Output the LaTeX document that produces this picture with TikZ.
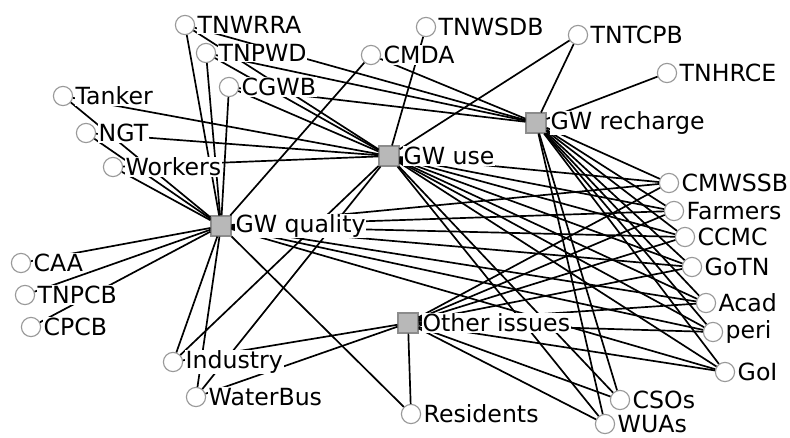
\documentclass[tikz,border=0pt]{standalone}
\usepackage{fontspec}
\setmainfont{DejaVu Sans}
\usetikzlibrary{positioning}

\begin{document}
\begin{tikzpicture}[x=0.025cm,y=-0.025cm,
  actor/.style={circle,draw=black!40,fill=white,line width=0.8pt,minimum size=0.48cm,inner sep=0pt},
  issue/.style={rectangle,draw=black!45,fill=black!28,line width=0.8pt,minimum size=0.5cm,inner sep=0pt},
  lbl/.style={fill=white,inner sep=0.6pt,font=\fontsize{16.8}{19}\selectfont},
  link/.style={line width=1.2pt}]
\useasboundingbox (0,0) rectangle (790,437);
\node[issue] (gwq) at (221,226) {};
\node[issue] (gwu) at (389,156) {};
\node[issue] (gwr) at (536,123) {};
\node[issue] (oth) at (408,323) {};
\node[actor] (tnwrra) at (185,25) {};
\node[actor] (tnpwd) at (206,53) {};
\node[actor] (cgwb) at (229,87) {};
\node[actor] (tanker) at (63,96) {};
\node[actor] (ngt) at (86,133) {};
\node[actor] (workers) at (113,167) {};
\node[actor] (cmda) at (371,55) {};
\node[actor] (tnwsdb) at (426,27) {};
\node[actor] (tntcpb) at (578,35) {};
\node[actor] (tnhrce) at (667,73) {};
\node[actor] (cmwssb) at (669,183) {};
\node[actor] (farmers) at (674,211) {};
\node[actor] (ccmc) at (685,237) {};
\node[actor] (gotn) at (692,267) {};
\node[actor] (acad) at (706,303) {};
\node[actor] (peri) at (713,332) {};
\node[actor] (goi) at (725,372) {};
\node[actor] (csos) at (620,400) {};
\node[actor] (wuas) at (605,424) {};
\node[actor] (residents) at (411,414) {};
\node[actor] (caa) at (21,263) {};
\node[actor] (tnpcb) at (25,295) {};
\node[actor] (cpcb) at (31,327) {};
\node[actor] (industry) at (173,362) {};
\node[actor] (waterbus) at (196,397) {};
\draw[link] (gwq) -- (tnwrra);
\draw[link] (gwq) -- (tnpwd);
\draw[link] (gwq) -- (cgwb);
\draw[link] (gwq) -- (tanker);
\draw[link] (gwq) -- (ngt);
\draw[link] (gwq) -- (workers);
\draw[link] (gwq) -- (cmda);
\draw[link] (gwq) -- (caa);
\draw[link] (gwq) -- (tnpcb);
\draw[link] (gwq) -- (cpcb);
\draw[link] (gwq) -- (industry);
\draw[link] (gwq) -- (waterbus);
\draw[link] (gwq) -- (residents);
\draw[link] (gwq) -- (cmwssb);
\draw[link] (gwq) -- (farmers);
\draw[link] (gwq) -- (ccmc);
\draw[link] (gwq) -- (gotn);
\draw[link] (gwq) -- (acad);
\draw[link] (gwq) -- (peri);
\draw[link] (gwq) -- (goi);
\draw[link] (gwu) -- (tnwrra);
\draw[link] (gwu) -- (tnpwd);
\draw[link] (gwu) -- (cgwb);
\draw[link] (gwu) -- (tanker);
\draw[link] (gwu) -- (ngt);
\draw[link] (gwu) -- (workers);
\draw[link] (gwu) -- (tnwsdb);
\draw[link] (gwu) -- (tntcpb);
\draw[link] (gwu) -- (industry);
\draw[link] (gwu) -- (waterbus);
\draw[link] (gwu) -- (cmwssb);
\draw[link] (gwu) -- (farmers);
\draw[link] (gwu) -- (ccmc);
\draw[link] (gwu) -- (gotn);
\draw[link] (gwu) -- (acad);
\draw[link] (gwu) -- (peri);
\draw[link] (gwu) -- (goi);
\draw[link] (gwu) -- (csos);
\draw[link] (gwu) -- (wuas);
\draw[link] (gwr) -- (tnwrra);
\draw[link] (gwr) -- (tnpwd);
\draw[link] (gwr) -- (cgwb);
\draw[link] (gwr) -- (cmda);
\draw[link] (gwr) -- (tntcpb);
\draw[link] (gwr) -- (tnhrce);
\draw[link] (gwr) -- (cmwssb);
\draw[link] (gwr) -- (farmers);
\draw[link] (gwr) -- (ccmc);
\draw[link] (gwr) -- (gotn);
\draw[link] (gwr) -- (acad);
\draw[link] (gwr) -- (peri);
\draw[link] (gwr) -- (goi);
\draw[link] (gwr) -- (csos);
\draw[link] (gwr) -- (wuas);
\draw[link] (oth) -- (industry);
\draw[link] (oth) -- (waterbus);
\draw[link] (oth) -- (residents);
\draw[link] (oth) -- (cmwssb);
\draw[link] (oth) -- (farmers);
\draw[link] (oth) -- (ccmc);
\draw[link] (oth) -- (gotn);
\draw[link] (oth) -- (acad);
\draw[link] (oth) -- (peri);
\draw[link] (oth) -- (goi);
\draw[link] (oth) -- (csos);
\draw[link] (oth) -- (wuas);
\node[lbl,right=2pt of gwq] (gwqtext) {GW quality};
\node[lbl,right=2pt of gwu] (gwutext) {GW use};
\node[lbl,right=2pt of gwr] (gwrtext) {GW recharge};
\node[lbl,right=2pt of oth] (othtext) {Other issues};
\node[lbl,right=1pt of tnwrra] (tnwrratext) {TNWRRA};
\node[lbl,right=1pt of tnpwd] (tnpwdtext) {TNPWD};
\node[lbl,right=1pt of cgwb] (cgwbtext) {CGWB};
\node[lbl,right=1pt of tanker] (tankertext) {Tanker};
\node[lbl,right=1pt of ngt] (ngttext) {NGT};
\node[lbl,right=1pt of workers] (workerstext) {Workers};
\node[lbl,right=1pt of cmda] (cmdatext) {CMDA};
\node[lbl,right=1pt of tnwsdb] (tnwsdbtext) {TNWSDB};
\node[lbl,right=1pt of tntcpb] (tntcpbtext) {TNTCPB};
\node[lbl,right=1pt of tnhrce] (tnhrcetext) {TNHRCE};
\node[lbl,right=1pt of cmwssb] (cmwssbtext) {CMWSSB};
\node[lbl,right=1pt of farmers] (farmerstext) {Farmers};
\node[lbl,right=1pt of ccmc] (ccmctext) {CCMC};
\node[lbl,right=1pt of gotn] (gotntext) {GoTN};
\node[lbl,right=1pt of acad] (acadtext) {Acad};
\node[lbl,right=1pt of peri] (peritext) {peri};
\node[lbl,right=1pt of goi] (goitext) {GoI};
\node[lbl,right=1pt of csos] (csostext) {CSOs};
\node[lbl,right=1pt of wuas] (wuastext) {WUAs};
\node[lbl,right=1pt of residents] (residentstext) {Residents};
\node[lbl,right=1pt of caa] (caatext) {CAA};
\node[lbl,right=1pt of tnpcb] (tnpcbtext) {TNPCB};
\node[lbl,right=1pt of cpcb] (cpcbtext) {CPCB};
\node[lbl,right=1pt of industry] (industrytext) {Industry};
\node[lbl,right=1pt of waterbus] (waterbustext) {WaterBus};
\end{tikzpicture}
\end{document}
